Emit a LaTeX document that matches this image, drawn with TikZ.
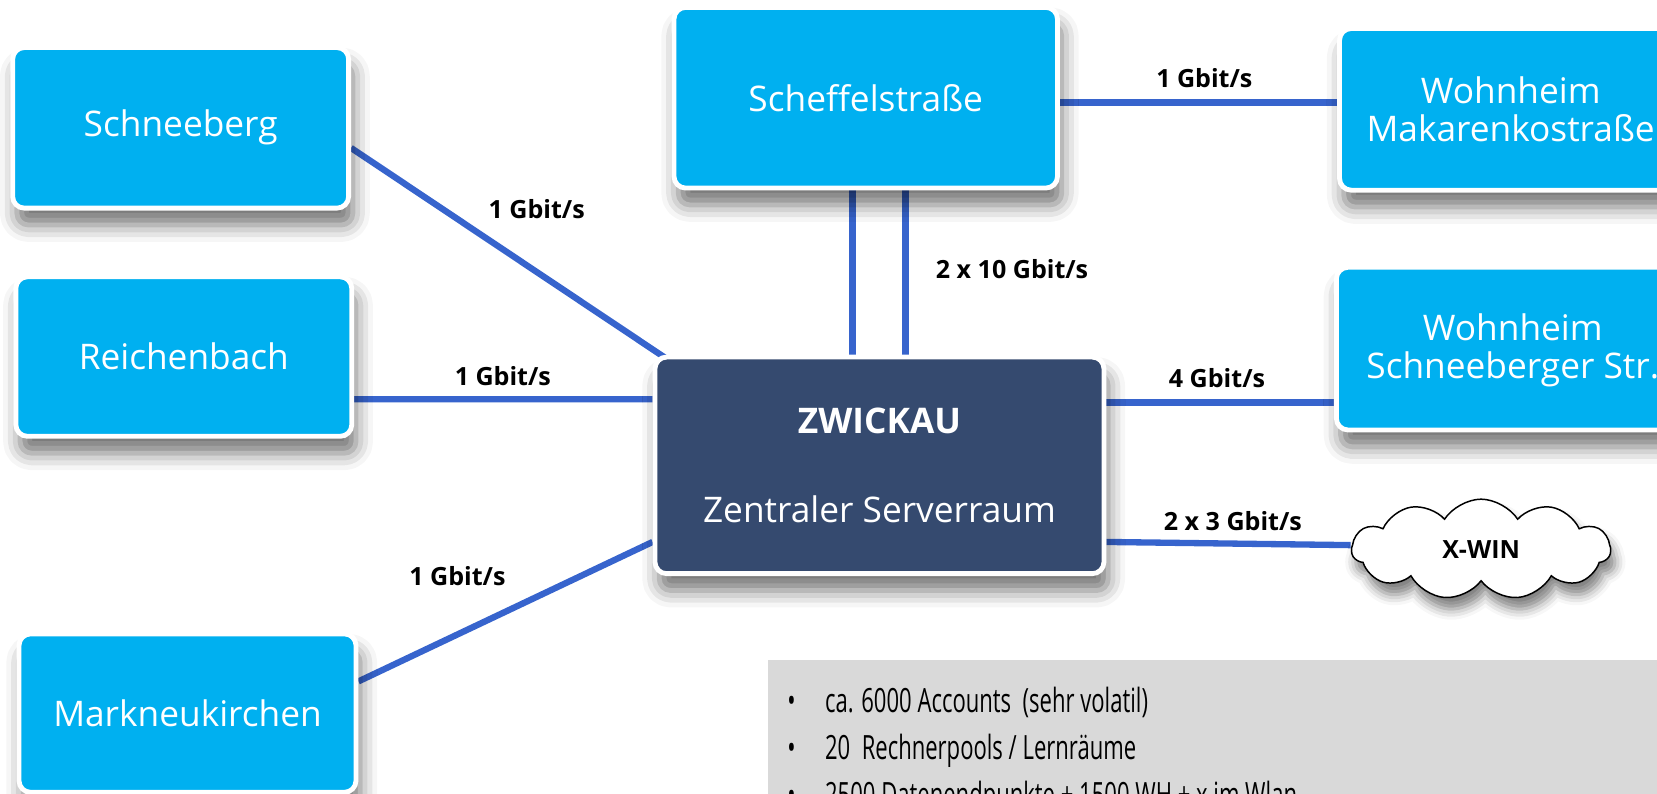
\documentclass[tikz,border=0pt]{standalone}
\usepackage{fontspec}
\setmainfont{Open Sans}
\usepackage{graphicx}
\usetikzlibrary{backgrounds,shadows.blur,shapes.symbols}
\definecolor{siteblue}{RGB}{0,176,240}
\definecolor{hubblue}{RGB}{53,74,111}
\definecolor{linkblue}{RGB}{55,100,205}
\definecolor{notegray}{RGB}{217,217,217}

\begin{document}
\begin{tikzpicture}[
    site/.style={draw=white, line width=2.6pt, fill=siteblue, rounded corners=0.22cm,
      text=white, align=center, inner sep=0pt, font=\fontsize{19}{20.5}\selectfont,
      blur shadow={shadow xshift=0.08cm, shadow yshift=-0.32cm, shadow blur radius=0.32cm, shadow opacity=55}},
    hub/.style={site, fill=hubblue},
    link/.style={linkblue, line width=3.4pt},
    rate/.style={font=\fontsize{13.5}{15}\selectfont\bfseries}]
    \useasboundingbox (0,0) rectangle (31.37,-15.03);

    \draw node at (3.42,-2.42)[name=sb, site, minimum width=6.36cm, minimum height=3.04cm]{Schneeberg};
    \draw node at (3.48,-6.75)[name=rb, site, minimum width=6.36cm, minimum height=3.02cm]{Reichenbach};
    \draw node at (3.55,-13.5)[name=mk, site, minimum width=6.38cm, minimum height=3.0cm]{Markneukirchen};
    \draw node at (16.39,-1.85)[name=sf, site, minimum width=7.26cm, minimum height=3.42cm]{Scheffelstraße};
    \draw node at (29.28,-2.07)[name=wm, site, minimum width=7.84cm, minimum height=3.06cm]{};
    \draw node at (28.6,-2.06)[name=wmT, text=white, align=center, font=\fontsize{19}{20.5}\selectfont]{Wohnheim\\Makarenkostraße};
    \draw node at (29.25,-6.6)[name=ws, site, minimum width=7.9cm, minimum height=3.08cm]{};
    \draw node at (28.64,-6.64)[name=wsT, text=white, align=center, font=\fontsize{19}{20.5}\selectfont]{Wohnheim\\Schneeberger Str.};
    \draw node at (16.65,-8.81)[name=zw, hub, minimum width=8.5cm, minimum height=4.1cm]{\textbf{ZWICKAU}\\[27pt]Zentraler Serverraum};
    \draw node at (28.04,-10.4)[name=xw, cloud, cloud puffs=11, cloud puff arc=115, aspect=2.5,
      draw=black, line width=0.8pt, fill=white, minimum width=4.9cm, minimum height=1.9cm, rate,
      blur shadow={shadow xshift=0.08cm, shadow yshift=-0.22cm, shadow blur radius=0.2cm, shadow opacity=50}]{X-WIN};

    \begin{scope}[on background layer]
    \draw[link]([yshift=-0.38cm]sb.east) -- ([xshift=0.3cm,yshift=-0.1cm]zw.north west);
    \draw[link]([yshift=-0.81cm]rb.east) -- ([yshift=1.25cm]zw.west);
    \draw[link]([yshift=0.6cm]mk.east) -- ([yshift=-1.45cm]zw.west);
    \draw[link]([xshift=-0.25cm]sf.south) -- ([xshift=-0.25cm]sf.south |- zw.north);
    \draw[link]([xshift=0.75cm]sf.south) -- ([xshift=0.75cm]sf.south |- zw.north);
    \draw[link]([yshift=-0.09cm]sf.east) -- ([yshift=-0.09cm]sf.east -| wm.west);
    \draw[link]([yshift=1.19cm]zw.east) -- ([yshift=1.19cm]zw.east -| ws.west);
    \draw[link]([yshift=-1.45cm]zw.east) -- ([yshift=0.08cm]xw.west);
    \end{scope}

    \draw node at (10.16,-3.96)[name=r1, rate]{1 Gbit/s};
    \draw node at (9.52,-7.12)[name=r2, rate]{1 Gbit/s};
    \draw node at (8.66,-10.9)[name=r3, rate]{1 Gbit/s};
    \draw node at (19.16,-5.1)[name=r4, rate]{2 x 10 Gbit/s};
    \draw node at (22.8,-1.48)[name=r5, rate]{1 Gbit/s};
    \draw node at (23.04,-7.16)[name=r6, rate]{4 Gbit/s};
    \draw node at (23.34,-9.86)[name=r7, rate]{2 x 3 Gbit/s};

    \fill[notegray] (14.54,-12.5) rectangle (32,-16);
    \draw node at (14.9,-13.48)[name=facts, anchor=base west, inner sep=0pt]{\scalebox{0.66}[1]{%
      \fontsize{18}{25.5}\selectfont
      \begin{tabular}[t]{@{}l@{\hspace{24pt}}l@{}}
      • & ca. 6000 Accounts~ (sehr volatil)\\
      • & 20~ Rechnerpools / Lernräume\\
      • & 2500 Datenendpunkte + 1500 WH + x im Wlan
      \end{tabular}}};
\end{tikzpicture}
\end{document}
